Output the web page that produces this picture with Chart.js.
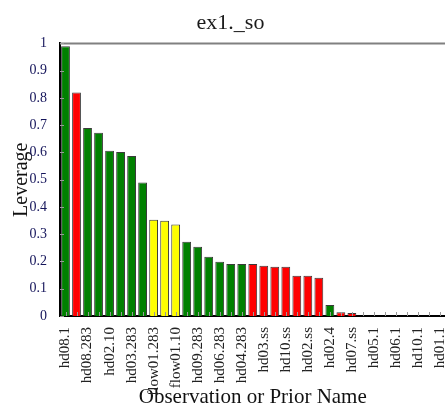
<!DOCTYPE html>
<html>
<head>
<meta charset="utf-8">
<script src="https://cdn.jsdelivr.net/npm/chart.js@4/dist/chart.umd.min.js"></script>
<style>
    html, body { margin: 0; padding: 0; background: #fff; overflow: hidden; }
    #wrap { width: 461px; height: 410px; }
</style>
</head>
<body>
<div id="wrap"><canvas id="myChart" width="461" height="410"></canvas></div>
<script>
// observation / prior names, sorted by leverage
const names = [
    'hd08.1', 'hd08.ss', 'hd08.283', 'hd08.10', 'hd02.10', 'hd02.283', 'hd03.283', 'hd03.10',
    'flow01.283', 'flow01.4', 'flow01.10', 'hd09.10', 'hd09.283', 'hd06.10', 'hd06.283', 'hd04.10',
    'hd04.283', 'hd04.ss', 'hd03.ss', 'hd09.ss', 'hd10.ss', 'hd06.ss', 'hd02.ss', 'hd01.ss',
    'hd02.4', 'hd05.ss', 'hd07.ss', 'hd08.4', 'hd05.1', 'hd05.4', 'hd06.1', 'hd09.1',
    'hd10.1', 'hd03.1', 'hd01.1'
];
const leverage = [
    0.99, 0.82, 0.69, 0.672, 0.606, 0.602, 0.587, 0.49,
    0.353, 0.349, 0.336, 0.272, 0.254, 0.217, 0.199, 0.191,
    0.191, 0.191, 0.184, 0.181, 0.181, 0.148, 0.148, 0.14,
    0.04, 0.014, 0.011, 0, 0, 0, 0, 0,
    0, 0, 0
];
// G = head obs, R = .ss obs, Y = flow obs
const groups = [
    'G', 'R', 'G', 'G', 'G', 'G', 'G', 'G',
    'Y', 'Y', 'Y', 'G', 'G', 'G', 'G', 'G',
    'G', 'R', 'R', 'R', 'R', 'R', 'R', 'R',
    'G', 'R', 'R', 'G', 'G', 'G', 'G', 'G',
    'G', 'G', 'G'
];
const yTicks = [0, 0.1, 0.2, 0.3, 0.4, 0.5, 0.6, 0.7, 0.8, 0.9, 1];

const groupColor = { G: '#008000', R: '#ff0000', Y: '#ffff00' };
const serif = '"Liberation Serif", "DejaVu Serif", serif';

// grey top frame + short inner tick marks
const framePlugin = {
    id: 'frame',
    afterDatasetsDraw(chart) {
        const ctx = chart.ctx;
        const a = chart.chartArea;
        const x = chart.scales.x, y = chart.scales.y;
        ctx.save();
        ctx.strokeStyle = '#808080';
        ctx.lineWidth = 2;
        ctx.beginPath();
        ctx.moveTo(a.left, a.top);
        ctx.lineTo(a.right + 20, a.top);
        ctx.stroke();
        ctx.lineWidth = 1;
        ctx.strokeStyle = '#999';
        ctx.beginPath();
        for (let i = 0; i < names.length; i++) {
            const px = Math.round(x.getPixelForTick(i)) + 0.5;
            ctx.moveTo(px, a.bottom);
            ctx.lineTo(px, a.bottom - 4);
        }
        for (const v of yTicks) {
            const py = Math.round(y.getPixelForValue(v)) + 0.5;
            ctx.moveTo(a.left, py);
            ctx.lineTo(a.left + 4, py);
        }
        ctx.stroke();
        ctx.restore();
    }
};

const myChart = new Chart(document.getElementById('myChart'), {
    type: 'bar',
    data: {
        labels: names,
        datasets: [{
            data: leverage,
            backgroundColor: groups.map(g => groupColor[g]),
            borderColor: '#3a3a3a',
            borderWidth: 1,
            barPercentage: 0.8,
            categoryPercentage: 1
        }]
    },
    options: {
        responsive: false,
        animation: false,
        devicePixelRatio: 1,
        layout: { padding: { left: 0, right: 0, top: 0, bottom: 0 } },
        plugins: {
            legend: { display: false },
            tooltip: { enabled: false },
            title: {
                display: true,
                text: 'ex1._so',
                color: '#1a1a1a',
                font: { family: serif, size: 22, weight: 'normal' },
                padding: { top: 10, bottom: 7 }
            }
        },
        scales: {
            x: {
                grid: { display: false },
                border: { display: true, color: '#000', width: 2 },
                ticks: {
                    autoSkip: false,
                    maxRotation: 90,
                    minRotation: 90,
                    padding: 3,
                    color: '#222',
                    font: { family: serif, size: 15 },
                    callback: (v, i) => (i % 2 === 0 ? names[i] : '')
                },
                title: {
                    display: true,
                    text: 'Observation or Prior Name',
                    color: '#111',
                    font: { family: serif, size: 21 },
                    padding: { top: 0, bottom: 0 }
                },
                afterFit: (scale) => { scale.height = 94; }
            },
            y: {
                min: 0,
                max: 1,
                grid: { display: false },
                border: { display: true, color: '#000', width: 2 },
                afterBuildTicks: (scale) => { scale.ticks = yTicks.map(v => ({ value: v })); },
                ticks: {
                    padding: 5,
                    color: '#14145a',
                    font: { family: serif, size: 14 },
                    callback: (v) => String(v)
                },
                title: {
                    display: true,
                    text: 'Leverage',
                    color: '#111',
                    font: { family: serif, size: 20 },
                    padding: { top: 10, bottom: 0 }
                },
                afterFit: (scale) => { scale.width = 60; }
            }
        }
    },
    plugins: [framePlugin]
});
</script>
</body>
</html>
